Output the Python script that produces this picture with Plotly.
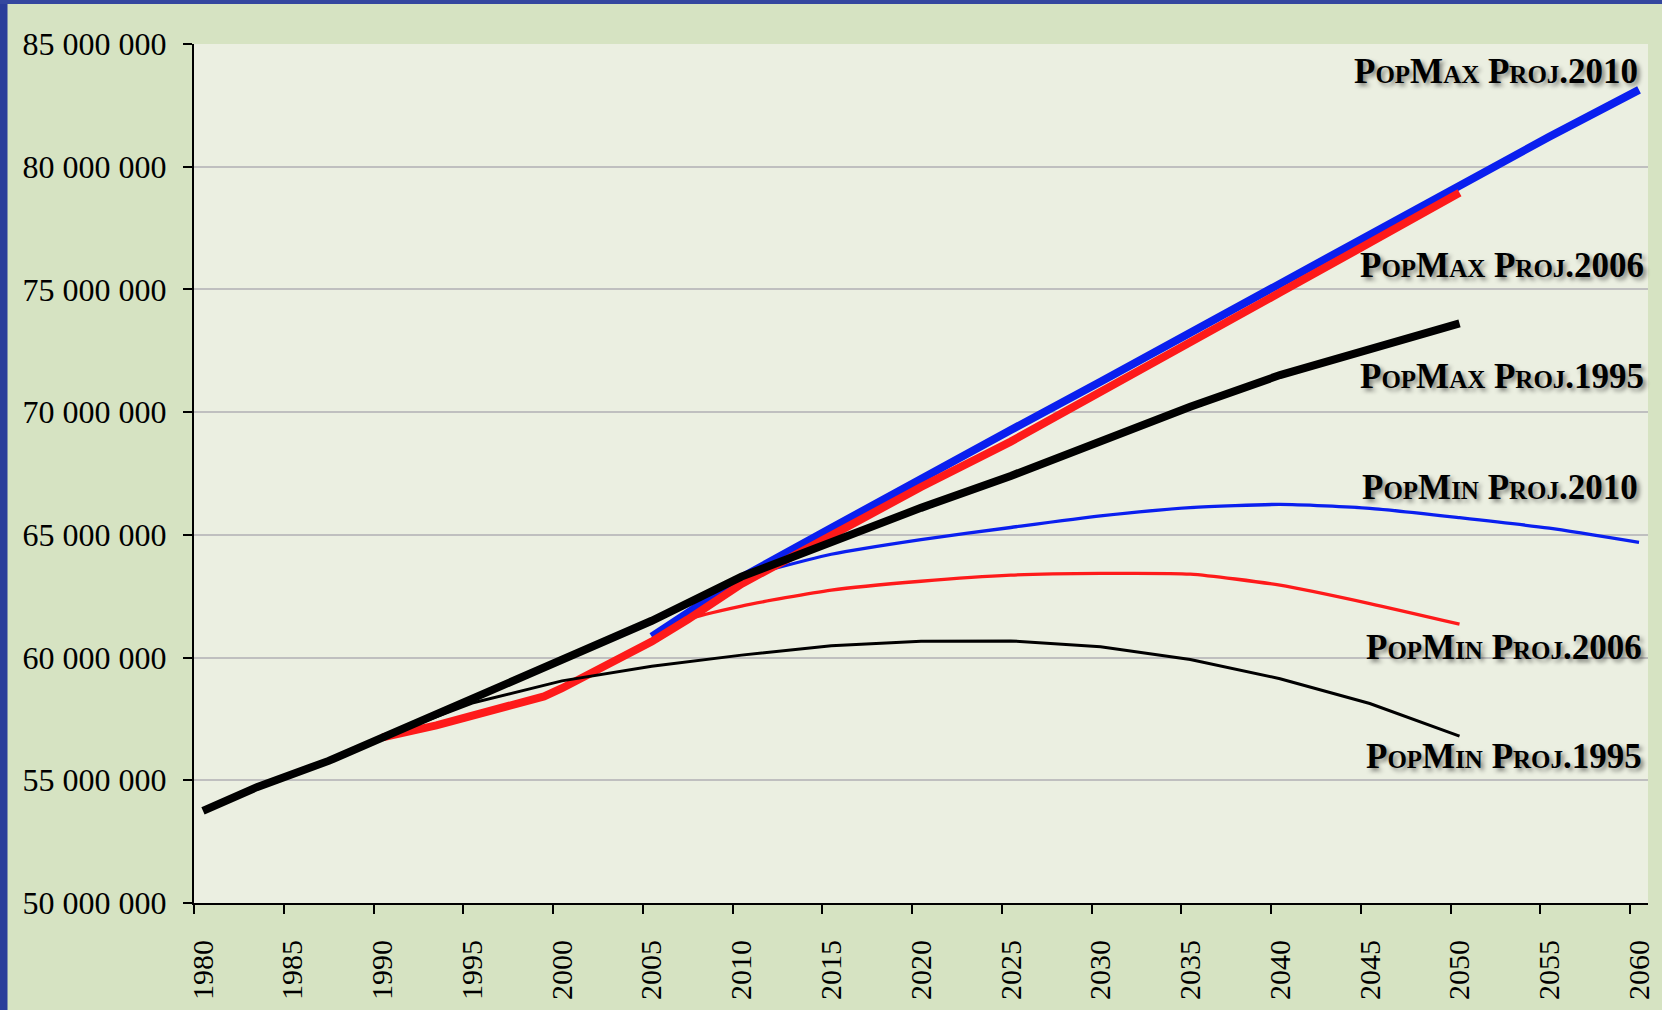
import plotly.graph_objects as go

# ---------------- data (population, millions) ----------------
years_max1995 = [1980, 1983, 1987, 1990, 1995, 2000, 2005, 2010, 2015, 2020, 2025, 2030, 2035, 2040, 2045, 2050]
pop_max1995 = [53.75, 54.72, 55.79, 56.75, 58.36, 59.9, 61.5, 63.3, 64.7, 66.1, 67.4, 68.8, 70.22, 71.51, 72.58, 73.62]

years_min1995 = [1990, 1995, 2000, 2005, 2010, 2015, 2020, 2025, 2030, 2035, 2040, 2045, 2050]
pop_min1995 = [56.75, 58.15, 59.05, 59.65, 60.1, 60.48, 60.67, 60.68, 60.44, 59.92, 59.14, 58.13, 56.8]

years_max2006 = [1990, 1993, 1999, 2000, 2005, 2007, 2010, 2015, 2020, 2025, 2030, 2035, 2040, 2045, 2050]
pop_max2006 = [56.75, 57.24, 58.42, 58.75, 60.65, 61.55, 63.0, 65.02, 66.95, 68.8, 70.8, 72.84, 74.87, 76.9, 78.94]

years_min2006 = [2005, 2007, 2010, 2015, 2020, 2025, 2030, 2035, 2040, 2045, 2050]
pop_min2006 = [60.65, 61.55, 62.1, 62.75, 63.11, 63.36, 63.43, 63.4, 62.95, 62.2, 61.36]

years_max2010 = [2005, 2007, 2010, 2015, 2020, 2025, 2030, 2035, 2040, 2045, 2050, 2055, 2060]
pop_max2010 = [60.85, 61.85, 63.27, 65.28, 67.3, 69.27, 71.24, 73.24, 75.25, 77.25, 79.3, 81.22, 83.13]

years_min2010 = [2010, 2015, 2020, 2025, 2030, 2035, 2040, 2045, 2050, 2055, 2060]
pop_min2010 = [63.27, 64.21, 64.81, 65.3, 65.77, 66.11, 66.24, 66.08, 65.7, 65.27, 64.69]

x_tick_years = list(range(1980, 2061, 5))
x_tick_labels = [str(y) for y in x_tick_years]
y_tick_values = [50e6, 55e6, 60e6, 65e6, 70e6, 75e6, 80e6, 85e6]
y_tick_labels = ["50 000 000", "55 000 000", "60 000 000", "65 000 000",
                 "70 000 000", "75 000 000", "80 000 000", "85 000 000"]

label_texts = ["PopMax Proj.2010", "PopMax Proj.2006", "PopMax Proj.1995",
               "PopMin Proj.2010", "PopMin Proj.2006", "PopMin Proj.1995"]
label_y = [83.88, 75.97, 71.45, 66.92, 60.43, 55.96]
label_xpaper = [0.9944, 0.9989, 0.9989, 0.9944, 0.9975, 0.9975]

# ---------------- figure ----------------
BLUE = "#0a1fef"
RED = "#fe1a1a"
BLACK = "#000000"

def mil(v):
    return [x * 1e6 for x in v]

fig = go.Figure()
series = [
    (years_min2010, pop_min2010, BLUE, 3.3, "spline"),
    (years_max2010, pop_max2010, BLUE, 8, "linear"),
    (years_min2006, pop_min2006, RED, 3.3, "spline"),
    (years_max2006, pop_max2006, RED, 8, "linear"),
    (years_min1995, pop_min1995, BLACK, 3.0, "linear"),
    (years_max1995, pop_max1995, BLACK, 8, "linear"),
]
for xs, ys, col, w, shp in series:
    fig.add_trace(go.Scatter(
        x=xs, y=mil(ys), mode="lines",
        line=dict(color=col, width=w, shape=shp, smoothing=0.6),
        showlegend=False, hoverinfo="skip", cliponaxis=False))

label_font = dict(family="Liberation Serif", size=35, color="black",
                  weight="bold", variant="small-caps",
                  shadow="3px 3px 4px rgba(0,0,0,0.45)")
for t, xv, yv in zip(label_texts, label_xpaper, label_y):
    fig.add_annotation(x=xv, y=yv * 1e6, xref="paper", yref="y", text=t,
                       showarrow=False, xanchor="right", yanchor="middle",
                       font=label_font)

W, H = 1662, 1010
L, R, T, B = 194, 14, 44, 107
pw = W - L - R
ph = H - T - B
# blue frame strips (left and top)
fig.add_shape(type="rect", xref="paper", yref="paper",
              x0=-L / pw, x1=(-L + 7.5) / pw, y0=-B / ph, y1=(ph + T) / ph,
              fillcolor="#2a3d9a", line_width=0, layer="above")
fig.add_shape(type="rect", xref="paper", yref="paper",
              x0=-L / pw, x1=(pw + R) / pw, y0=(ph + T - 4) / ph, y1=(ph + T) / ph,
              fillcolor="#34479f", line_width=0, layer="above")

y_tick_font = dict(family="Liberation Serif", size=32, color="black")
x_tick_font = dict(family="Liberation Serif", size=30, color="black")
fig.update_layout(
    width=W, height=H,
    margin=dict(l=L, r=R, t=T, b=B, pad=0, autoexpand=False),
    paper_bgcolor="#d6e3c2",
    plot_bgcolor="#ebefe1",
    showlegend=False,
    xaxis=dict(
        range=[1979.5, 2060.5], tickmode="array",
        tickvals=x_tick_years, ticktext=x_tick_labels,
        tickangle=-90, tickfont=x_tick_font, ticks="",
        ticklabelstandoff=23, automargin=False,
        minor=dict(tickmode="linear", tick0=1979.5, dtick=5, ticks="outside",
                   ticklen=9, tickwidth=2, tickcolor="black", showgrid=False),
        showline=True, linecolor="black", linewidth=2,
        showgrid=False, zeroline=False, fixedrange=True,
    ),
    yaxis=dict(
        range=[50e6, 85e6], tickmode="array",
        tickvals=y_tick_values, ticktext=y_tick_labels,
        tickfont=y_tick_font, ticks="outside", ticklen=9, tickwidth=2,
        tickcolor="black", ticklabelstandoff=10, automargin=False,
        showline=True, linecolor="black", linewidth=2,
        showgrid=True, gridcolor="#bfbfbf", gridwidth=2,
        zeroline=False, fixedrange=True,
    ),
)

fig.write_html("out.html",
               config={"displayModeBar": False},
               post_script="document.body.style.margin='0px';"
                           "document.body.style.overflow='hidden';")
